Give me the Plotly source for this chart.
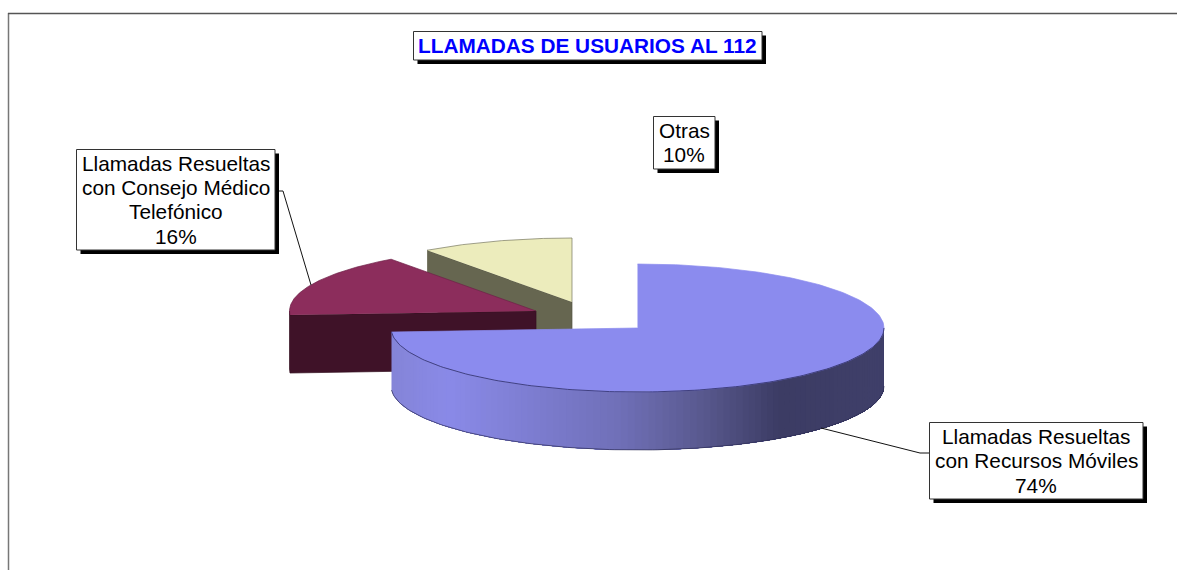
import numpy as np
import plotly.graph_objects as go

# ---- data ----
categories = [["Llamadas Resueltas", "con Recursos Móviles"],
              ["Llamadas Resueltas", "con Consejo Médico", "Telefónico"],
              ["Otras"]]
values = [74, 16, 10]
title_text = "LLAMADAS DE USUARIOS AL 112"

# ---- colours ----
top_colors = ["#8B8BEE", "#8C2D5C", "#ECECBC"]
side_colors = [None, "#3F1228", "#666650"]
FONT = "Liberation Sans, Arial, sans-serif"

# ---- pie geometry in page pixels ----
RX, RY, DEPTH = 246.5, 64, 58
centers = [(637.5, 328), (536, 311), (572, 302)]
grad_x = [392, 450, 620, 700, 780, 884]
grad_rgb = np.array([[133, 133, 216], [138, 138, 232], [112, 112, 184],
                     [90, 90, 144], [60, 60, 100], [64, 64, 106]], float)

W, H = 1177, 570
fig = go.Figure()


def arc(c, a0, a1, n=120):
    t = np.radians(np.linspace(a0, a1, n))
    return c[0] + RX * np.sin(t), c[1] - RY * np.cos(t)


def poly(x, y, fill, line=None, lw=0.7):
    fig.add_trace(go.Scatter(x=list(x), y=list(y), mode="lines" if line else "none", fill="toself",
                             fillcolor=fill, hoverinfo="skip", showlegend=False,
                             line=dict(color=line or fill, width=lw)))


def line(x, y, color="#111111", lw=1):
    fig.add_trace(go.Scatter(x=x, y=y, mode="lines", hoverinfo="skip", showlegend=False,
                             line=dict(color=color, width=lw)))


# slice angles, clockwise from 12 o'clock, from the values
cum = np.cumsum([0] + values) / sum(values) * 360
spans = [(cum[i], cum[i + 1]) for i in range(len(values))]

# Otras (back)
a0, a1 = spans[2]
c = centers[2]
ax, ay = arc(c, a0, a1)
poly([ax[0], c[0], c[0], ax[0]], [ay[0], c[1], c[1] + DEPTH, ay[0] + DEPTH], side_colors[2], "#555544")
poly(list(ax) + [c[0]], list(ay) + [c[1]], top_colors[2], "#77775E")

# Consejo
a0, a1 = spans[1]
c = centers[1]
ax, ay = arc(c, a0, a1)
poly([ax[0], c[0], c[0], ax[0]], [ay[0], c[1], c[1] + DEPTH, ay[0] + DEPTH], side_colors[1], "#33101F")
rx, ry = arc(c, a0, 270, 8)
poly(list(rx) + list(rx[::-1]), list(ry) + list(ry[::-1] + DEPTH), side_colors[1], "#33101F")
poly(list(ax) + [c[0]], list(ay) + [c[1]], top_colors[1], "#6E2148")

# Main slice: shaded rim (each band overpaints the rest of the rim, so no seams), then top
a0, a1 = spans[0]
c = centers[0]
edges = np.linspace(a1, 90, 110)   # from the left end of the rim to the right
for e0, e1 in zip(edges[:-1], edges[1:]):
    mid = c[0] + RX * np.sin(np.radians((e0 + e1) / 2))
    rgb = [np.interp(mid, grad_x, grad_rgb[:, k]) for k in range(3)]
    col = "rgb(%d,%d,%d)" % tuple(rgb)
    sx, sy = arc(c, e0, 90, max(4, int(abs(e0 - 90))))
    poly(list(sx) + list(sx[::-1]), list(sy) + list(sy[::-1] + DEPTH), col)
bx, by = arc(c, 90, a1, 160)
line(list(bx), list(by + DEPTH), "#2E2E55", 0.7)
ax, ay = arc(c, a0, a1, 240)
poly(list(ax) + [c[0]], list(ay) + [c[1]], top_colors[0], top_colors[0])
line(list(bx), list(by), "#2E2E66", 0.8)

# leader lines
line([275, 283, 311], [191, 191, 285])
line([929, 920, 821], [453, 453, 428])

# frame
shapes = [
    dict(type="line", x0=8.5, x1=8.5, y0=13, y1=H, line=dict(color="#777777", width=1.5)),
    dict(type="line", x0=8, x1=W, y0=13.5, y1=13.5, line=dict(color="#555555", width=1.5)),
]


def box(x0, y0, x1, y1, lines, size=20.8, color="black", bold=False, off=4, spacing=24.3):
    shapes.append(dict(type="rect", x0=x0 + off, x1=x1 + off, y0=y0 + off, y1=y1 + off,
                       fillcolor="black", line=dict(color="black", width=0), layer="above"))
    shapes.append(dict(type="rect", x0=x0, x1=x1, y0=y0, y1=y1, fillcolor="white",
                       line=dict(color="#333333", width=1), layer="above"))
    n = len(lines)
    for i, text in enumerate(lines):
        fig.add_annotation(x=(x0 + x1) / 2, y=(y0 + y1) / 2 + (i - (n - 1) / 2) * spacing,
                           text=("<b>%s</b>" % text) if bold else text,
                           showarrow=False, xanchor="center", yanchor="middle", align="center",
                           font=dict(family=FONT, size=size, color=color))


box(413.5, 31.5, 762, 60, [title_text], color="#0000FF", bold=True)
box(653.5, 116.5, 715, 169, categories[2] + ["%d%%" % values[2]])
box(76.5, 149.5, 275, 250, categories[1] + ["%d%%" % values[1]])
box(929.5, 422.5, 1143, 499, categories[0] + ["%d%%" % values[0]])

fig.update_layout(
    width=W, height=H, margin=dict(l=0, r=0, t=0, b=0),
    paper_bgcolor="white", plot_bgcolor="white", showlegend=False, shapes=shapes,
    xaxis=dict(range=[0, W], visible=False, fixedrange=True),
    yaxis=dict(range=[H, 0], visible=False, fixedrange=True),
)
fig.write_html("out.html", config=dict(displayModeBar=False),
               post_script="document.body.style.margin='0';document.body.style.overflow='hidden';")
